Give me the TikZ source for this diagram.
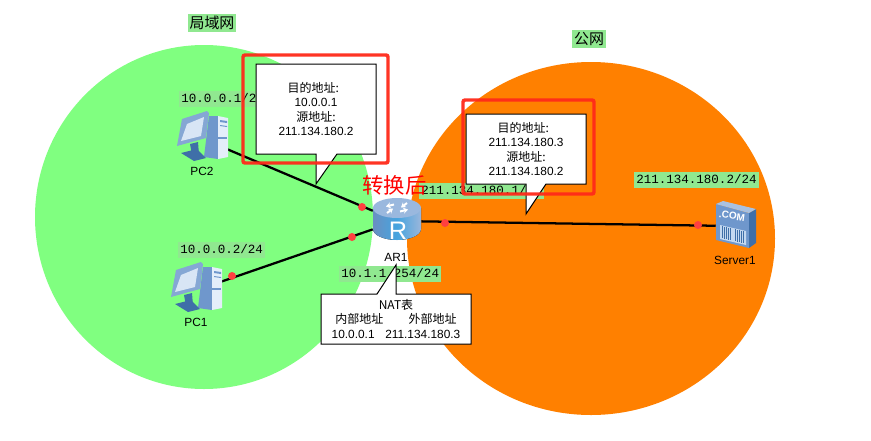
\documentclass[tikz,border=0pt]{standalone}
\usepackage{fontspec}
\setmainfont{Liberation Sans}
\setmonofont{Liberation Mono}
\newfontfamily\cjk{Noto Sans CJK SC}
\usetikzlibrary{arrows.meta}
\definecolor{lan}{HTML}{80FF80}
\definecolor{wan}{HTML}{FF8000}
\definecolor{lbl}{HTML}{90E890}
\definecolor{redbox}{HTML}{FF2A1A}
\definecolor{dot}{HTML}{FF4040}
\definecolor{pcA}{HTML}{6F97CC}
\definecolor{pcB}{HTML}{E4EEFA}
\definecolor{pcC}{HTML}{C4D8F0}
\definecolor{pcD}{HTML}{3F6FA8}
\newcommand{\zhtxt}[1]{{\cjk\fontsize{9pt}{10.8pt}\selectfont #1}}
\tikzset{
  x=0.75pt,y=-0.75pt,
  link/.style={draw=black,line width=1.7pt},
  iplabel/.style={fill=lbl,font=\ttfamily\fontsize{9.4pt}{11pt}\selectfont,inner xsep=1.5pt,inner ysep=1.5pt,text height=7pt,text depth=1.5pt},
  zone/.style={fill=lbl,font=\cjk\fontsize{11.2pt}{13pt}\selectfont,inner xsep=1.5pt,inner ysep=0pt,minimum height=13.5pt},
  callout/.style={draw=black,line width=0.75pt,fill=white},
  txt/.style={align=center,font=\fontsize{8.9pt}{10.8pt}\selectfont,inner sep=0pt},
  hl/.style={draw=redbox,line width=2.6pt,rounded corners=1.5pt,opacity=.95},
  reddot/.style={circle,fill=dot,inner sep=0pt,minimum size=6pt},
  devlabel/.style={font=\fontsize{8.9pt}{10pt}\selectfont,inner sep=0pt},
  anchorbox/.style={inner sep=0pt,minimum width=#1},
  rarrow/.style={white,line width=1.5pt,-{Stealth[length=3.5pt,width=4.5pt]}},
  pics/pcicon/.style={code={
    \fill[pcA] (203,267)--(212,267)--(212,310)--(198,308)--cycle;
    \fill[pcB] (212,267)--(222,269)--(222,308)--(212,310)--cycle;
    \fill[pcA] (214,271)--(221,272)--(221,274)--(214,273)--cycle;
    \fill[pcA] (214,276)--(221,277)--(221,278)--(214,277)--cycle;
    \fill[pcA] (212,288)--(221,288)--(221,290)--(212,290)--cycle;
    \fill[pcD] (175,304)--(191,300)--(200,309)--(188,312)--cycle;
    \fill[pcD] (184,295)--(192,293)--(193,306)--(186,306)--cycle;
    \fill[pcA!85!white] (176,270)--(201,262)--(203,264)--(200,289)--(171,297)--cycle;
    \fill[pcB!90!pcA] (181,275)--(198,268)--(195,287)--(175,292)--cycle;
  }},
}
\begin{document}
\begin{tikzpicture}
\useasboundingbox (0,0) rectangle (871,440);
\fill[white] (0,0) rectangle (871,440);
\fill[lan] (204,217) ellipse[x radius=169,y radius=172];
\fill[wan] (591,238.5) ellipse[x radius=184,y radius=176.5];

% device anchors
\node[anchorbox=36pt,minimum height=45pt] (PC1) at (197,290) {};
\node[anchorbox=36pt,minimum height=45pt] (PC2) at (203,139) {};
\node[anchorbox=36pt,minimum height=30pt] (AR1) at (397,221) {};
\node[anchorbox=24pt,minimum height=30pt] (Server1) at (732,226) {};

\draw[link] (PC2) -- (AR1);
\draw[link] (PC1) -- (AR1);
\draw[link] (AR1) -- (Server1);

\node[reddot] (d1) at (362,207) {};
\node[reddot] (d2) at (352,237) {};
\node[reddot] (d3) at (232,276) {};
\node[reddot] (d4) at (445,223) {};
\node[reddot] (d5) at (698,225) {};

% PCs
\pic at (0,0) {pcicon};
\pic at (6,-151) {pcicon};
\node[devlabel] (PC1t) at (196,322) {PC1};
\node[devlabel] (PC2t) at (202,171) {PC2};

% Router
\fill[left color=pcA!95!black,right color=pcA!70!white,middle color=pcA!70!cyan!90!blue] (373,208) -- (373,229) arc[start angle=180,end angle=0,x radius=24,y radius=11] -- (421,208) -- cycle;
\fill[pcC!50!pcA] (397,208) ellipse[x radius=24,y radius=10];
\draw[rarrow] (394,204.5)--(386,206.5);
\draw[rarrow] (400,211.5)--(408,209.5);
\draw[rarrow] (387,213)--(393,208.5);
\draw[rarrow] (407,203)--(401,207.5);
\node[text=white,font=\fontsize{19pt}{20pt}\selectfont,inner sep=0pt] (Rmark) at (398,231) {R};
\node[devlabel] (AR1t) at (396,257) {AR1};

% Server
\fill[pcA] (716,204)--(749,213)--(749,248)--(716,240)--cycle;
\fill[pcD] (749,213)--(756,209)--(756,243)--(749,248)--cycle;
\fill[pcA!60!white] (716,204)--(723,201)--(756,209)--(749,213)--cycle;
\node[text=white,font=\bfseries\fontsize{7.5pt}{8pt}\selectfont,inner sep=0pt,rotate=-8] (COM) at (732,216) {.COM};
\fill[pcC] (720,225)--(746,231)--(746,245)--(720,239)--cycle;
\foreach \p in {722,724,726,728,730,735,737,739,741,743}
  \draw[pcD,line width=.5pt] (\p,{225+(\p-720)*.23+1}) -- (\p,{239+(\p-720)*.23-1});
\node[devlabel] (Srv) at (735,260) {Server1};

% IP labels
\node[iplabel,anchor=west] (ip1) at (179,99) {10.0.0.1/24};
\node[iplabel,anchor=west] (ip2) at (178,250) {10.0.0.2/24};
\node[iplabel,anchor=west] (ip3) at (339,274) {10.1.1.254/24};
\node[iplabel,anchor=west] (ip4) at (419,191) {211.134.180.1/24};
\node[iplabel,anchor=west] (ip5) at (634,180) {211.134.180.2/24};

% Zone labels
\node[zone] (z1) at (212,23) {局域网};
\node[zone] (z2) at (589,38.5) {公网};

% Callouts
\draw[callout] (256,64)--(376,64)--(376,154)--(337,154)--(316,184)--(316,154)--(256,154)--cycle;
\node[txt] (c1) at (316,109) {\zhtxt{目的地址:}\hspace*{4pt}\\10.0.0.1\\\zhtxt{源地址:}\hspace*{4pt}\\211.134.180.2};
\draw[callout] (466,114)--(586,114)--(586,184)--(546,184)--(526,214)--(526,184)--(466,184)--cycle;
\node[txt] (c2) at (526,149) {\zhtxt{目的地址:}\hspace*{4pt}\\211.134.180.3\\\zhtxt{源地址:}\hspace*{4pt}\\211.134.180.2};
\draw[callout] (321,294)--(377,294)--(396,265)--(396,294)--(471,294)--(471,344)--(321,344)--cycle;
\node[txt] (c3) at (396,319) {\zhtxt{NAT表}\\\zhtxt{内部地址\hspace{19pt}外部地址}\\10.0.0.1\hspace{8pt}211.134.180.3};

% Highlights
\draw[hl] (243,55) rectangle (388,163);
\draw[hl] (463,100) rectangle (594,194);
\node[text=red,font=\cjk\fontsize{16pt}{17pt}\selectfont,inner sep=0pt] (after) at (394.5,185) {转换后};
\end{tikzpicture}
\end{document}
